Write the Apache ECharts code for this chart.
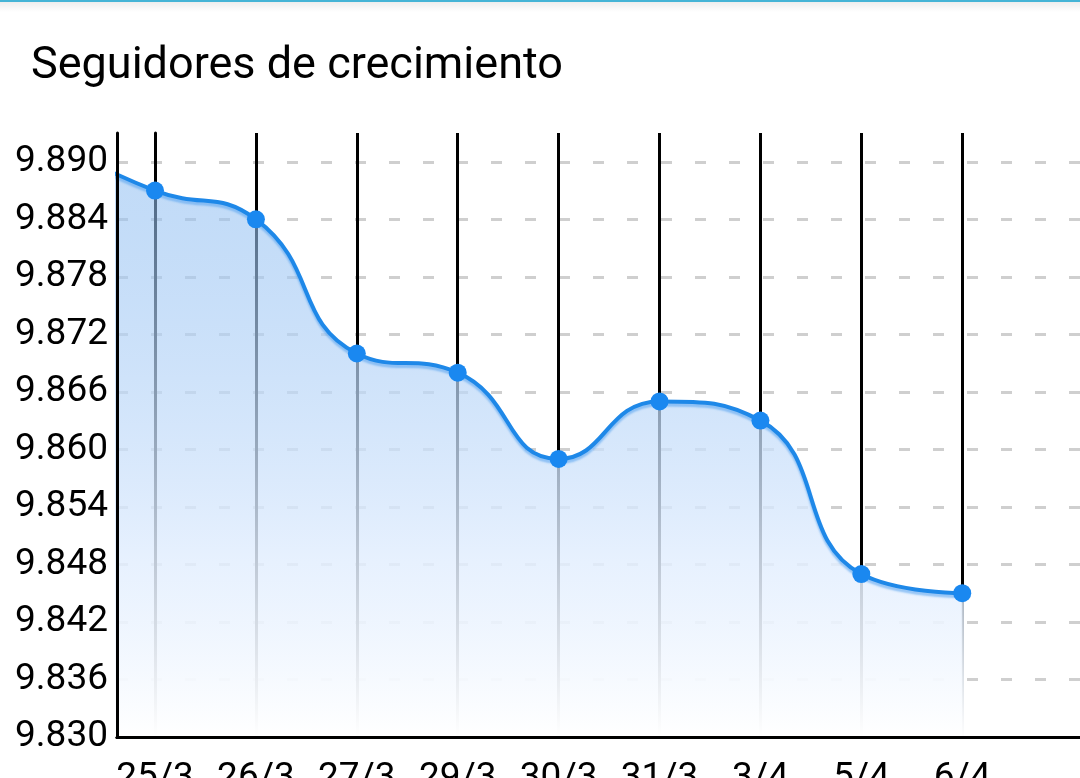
<!DOCTYPE html>
<html>
<head>
<meta charset="utf-8">
<script src="https://cdn.jsdelivr.net/npm/echarts@6/dist/echarts.min.js"></script>
<style>
html,body{margin:0;padding:0;background:#fff;overflow:hidden;}
#chart{width:1080px;height:778px;}
</style>
</head>
<body>
<div id="chart"></div>
<script>
// Data
const categories = ['25/3', '26/3', '27/3', '29/3', '30/3', '31/3', '3/4', '5/4', '6/4'];
const followers = [9887, 9884, 9870, 9868, 9859, 9865, 9863, 9847, 9845];
// value of the (clipped) point just before the first visible category
const prevFollowers = 9892;
const yMin = 9830, yMax = 9893, yStep = 6;

const lineData = [[-1, prevFollowers]].concat(followers.map((v, i) => [i, v]));
const catIdx = categories.map((c, i) => i);
const lastIdx = categories.length - 1;

const chart = echarts.init(document.getElementById('chart'));
const FONT = 'Roboto';
chart.setOption({
  animation: false,
  backgroundColor: '#ffffff',
  textStyle: { fontFamily: FONT },
  title: {
    text: 'Seguidores de crecimiento',
    left: 26, top: 39,
    textStyle: { fontFamily: FONT, fontSize: 45, fontWeight: 'normal', color: '#000' }
  },
  graphic: [
    { type: 'rect', left: 0, top: 0, shape: { width: 1080, height: 2 }, style: { fill: '#45b4d6' }, z: 100 },
    { type: 'rect', left: 0, top: 2, shape: { width: 1080, height: 10 },
      style: { fill: new echarts.graphic.LinearGradient(0, 0, 0, 1, [
        { offset: 0, color: 'rgba(0,0,0,0.07)' }, { offset: 1, color: 'rgba(0,0,0,0)' }]) }, z: 100 }
  ],
  grid: { left: 117, right: 0, top: 133, bottom: 41, outerBoundsMode: 'none', containLabel: false },
  xAxis: [{
    type: 'value',
    min: -0.3766, max: 9.167,
    axisLine: { show: true, lineStyle: { color: '#000', width: 3 } },
    axisTick: { show: true, inside: true, length: 4, customValues: catIdx, lineStyle: { color: '#000', width: 2 } },
    splitLine: { show: false },
    axisLabel: {
      customValues: catIdx,
      formatter: v => categories[Math.round(v)] || '',
      fontFamily: FONT, fontSize: 37, color: '#000', margin: 23
    }
  }, {
    type: 'value', position: 'bottom', min: -0.3766, max: 9.167, z: 10,
    axisLine: { show: true, lineStyle: { color: '#000', width: 3 } },
    axisTick: { show: false }, axisLabel: { show: false }, splitLine: { show: false }
  }],
  yAxis: [{
    type: 'value',
    min: yMin, max: yMax, interval: yStep,
    axisLine: { show: true, lineStyle: { color: '#000', width: 3 } },
    axisTick: { show: false },
    axisLabel: {
      showMaxLabel: false,
      formatter: v => (v / 1000).toFixed(3),
      fontFamily: FONT, fontSize: 37, color: '#000', margin: 9
    },
    splitLine: { show: true, showMaxLine: false, showMinLine: false,
      lineStyle: { color: '#cfcfcf', width: 3, type: [11, 23] } }
  }, {
    type: 'value', position: 'left', min: yMin, max: yMax, z: 10,
    axisLine: { show: true, onZero: false, lineStyle: { color: '#000', width: 3 } },
    axisTick: { show: false }, axisLabel: { show: false }, splitLine: { show: false }
  }],
  series: [{
    type: 'line',
    data: [],
    z: 1,
    markLine: {
      z: 1,
      silent: true,
      symbol: ['none', 'none'],
      label: { show: false },
      lineStyle: { color: '#000', width: 3, type: 'solid' },
      data: catIdx.slice(0, lastIdx).map(i => ({ xAxis: i })).concat([
        [{ coord: [lastIdx, yMax] }, { coord: [lastIdx, followers[lastIdx]] }],
        [{ coord: [lastIdx, followers[lastIdx]],
           lineStyle: { color: new echarts.graphic.LinearGradient(0, 0, 0, 1, [
             { offset: 0, color: '#a9b3bf' },
             { offset: 0.6, color: '#dde2e8' },
             { offset: 1, color: '#ffffff' }
           ]) } },
         { coord: [lastIdx, yMin] }]
      ])
    }
  }, {
    type: 'line',
    z: 2,
    data: lineData,
    smooth: true,
    clip: true,
    symbol: 'circle',
    symbolSize: 18,
    showAllSymbol: true,
    itemStyle: { color: '#1a88f0' },
    lineStyle: { color: '#1e88e8', width: 4,
      shadowColor: 'rgba(90,165,240,0.6)', shadowBlur: 2, shadowOffsetY: 3 },
    areaStyle: {
      opacity: 1,
      color: new echarts.graphic.LinearGradient(0, 0, 0, 1, [
        { offset: 0, color: 'rgba(135,185,240,0.52)' },
        { offset: 0.7, color: 'rgba(226,238,254,0.84)' },
        { offset: 1, color: 'rgba(255,255,255,1)' }
      ])
    }
  }]
});
</script>
</body>
</html>
